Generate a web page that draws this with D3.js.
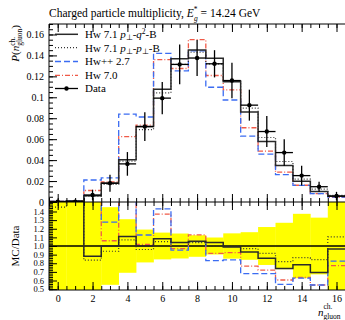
<!DOCTYPE html>
<html><head><meta charset="utf-8">
<script src="https://cdn.jsdelivr.net/npm/d3@7"></script>
<style>
body{margin:0;background:#fff}
svg{display:block}
text{font-family:"Liberation Serif","Times New Roman",serif;fill:#000}
</style>
</head><body>
<svg id="chart" width="345" height="320"></svg>
<script>
// ---------- data ----------
const bins = [0,1,2,3,4,5,6,7,8,9,10,11,12,13,14,15,16];
const dataVals = [0.0002,0.0004,0.0067,0.0180,0.0364,0.0720,0.0992,0.1314,0.1375,0.1320,0.1160,0.0925,0.0673,0.0472,0.0252,0.0146,0.0057];
const dataErrs = [0.0010,0.0010,0.0050,0.0081,0.0113,0.0137,0.0154,0.0190,0.0172,0.0130,0.0170,0.0148,0.0148,0.0127,0.0094,0.0048,0.0040];
const hwQ2   = [0.0004,0.0010,0.0059,0.0180,0.0404,0.0720,0.1076,0.1367,0.1451,0.1373,0.1148,0.0860,0.0577,0.0349,0.0197,0.0101,0.0055];
const hwPP   = [0.00029,0.0010,0.0056,0.0169,0.0390,0.0691,0.1042,0.1314,0.1430,0.1320,0.1160,0.0897,0.0616,0.0387,0.0218,0.0123,0.0063];
const hwpp27 = [0.0006,0.0012,0.0210,0.0230,0.0840,0.0812,0.1419,0.1252,0.1444,0.1096,0.0974,0.0629,0.0458,0.0262,0.0158,0.0080,0.0047];
const hw70   = [0.0006,0.0012,0.0110,0.0191,0.0625,0.0734,0.1359,0.1275,0.1551,0.1208,0.1070,0.0709,0.0485,0.0286,0.0160,0.0080,0.0044];
const seriesNames = ["Hw 7.1 p⊥-q²-B","Hw 7.1 p⊥-p⊥-B","Hw++ 2.7","Hw 7.0"];
const yTicksMain = [0,0.02,0.04,0.06,0.08,0.1,0.12,0.14,0.16];
const yTickLabelsMain = ["0","0.02","0.04","0.06","0.08","0.1","0.12","0.14","0.16"];
const yTicksRatio = [0.5,0.6,0.7,0.8,0.9,1.0,1.1,1.2,1.3,1.4];
const yTickLabelsRatio = ["0.5","0.6","0.7","0.8","0.9","1.0","1.1","1.2","1.3","1.4"];
const xTicks = [0,2,4,6,8,10,12,14,16];

// ---------- layout ----------
const svg = d3.select("#chart");
const L = 49, R = 370, T = 24, MB = 202, RB = 290;
const x = d3.scaleLinear().domain([0,16]).range([57.7,336.5]);
const y = d3.scaleLinear().domain([0,0.17]).range([MB,T]);
const yr = d3.scaleLinear().domain([0.49,1.51]).range([RB,MB]);

const styles = [
  {vals: hwQ2,   color:"#2a2a2a", dash:null,      w:1.5},
  {vals: hwPP,   color:"#333",    dash:"1,2",     w:1.2},
  {vals: hwpp27, color:"#3b6cf2", dash:"6,3",     w:1.3},
  {vals: hw70,   color:"#f05a48", dash:"5,2,1,2", w:1.3}
];

const defs = svg.append("defs");
defs.append("clipPath").attr("id","clipMain").append("rect").attr("x",L).attr("y",T).attr("width",R-L).attr("height",MB-T);
defs.append("clipPath").attr("id","clipRatio").append("rect").attr("x",L).attr("y",MB).attr("width",R-L).attr("height",RB-MB);

function stepPoints(vals, sc){
  const pts = bins.map((b,i)=>[x(b-0.5), sc(vals[i])]);
  pts.push([x(bins[bins.length-1]+0.5), sc(vals[vals.length-1])]);
  return pts;
}
const stepLine = d3.line().curve(d3.curveStepAfter);

// ---------- ratio band ----------
const gR = svg.append("g").attr("clip-path","url(#clipRatio)");
gR.selectAll("rect.band").data(bins).join("rect")
  .attr("x", b=>x(b-0.5)).attr("width", b=>x(b+0.5)-x(b-0.5)+0.3)
  .attr("y", (b,i)=>yr(Math.min(1+dataErrs[i]/dataVals[i], 5)))
  .attr("height", (b,i)=>yr(Math.max(1-dataErrs[i]/dataVals[i], -5)) - yr(Math.min(1+dataErrs[i]/dataVals[i], 5)))
  .attr("fill","#ffff00");
gR.append("line").attr("x1",L).attr("x2",R).attr("y1",yr(1)).attr("y2",yr(1)).attr("stroke","#000").attr("stroke-width",1.3);
styles.slice().reverse().forEach(s=>{
  const ratio = s.vals.map((v,i)=>v/dataVals[i]);
  gR.append("path").attr("d", stepLine(stepPoints(ratio, yr)))
    .attr("fill","none").attr("stroke",s.color).attr("stroke-width",s.w)
    .attr("stroke-dasharray",s.dash);
});

// ---------- main histograms ----------
const gM = svg.append("g").attr("clip-path","url(#clipMain)");
styles.slice().reverse().forEach(s=>{
  gM.append("path").attr("d", stepLine(stepPoints(s.vals, y)))
    .attr("fill","none").attr("stroke",s.color).attr("stroke-width",s.w)
    .attr("stroke-dasharray",s.dash);
});
// data points
const gD = gM.append("g");
bins.forEach((b,i)=>{
  gD.append("line").attr("x1",x(b-0.5)).attr("x2",x(b+0.5)).attr("y1",y(dataVals[i])).attr("y2",y(dataVals[i]))
    .attr("stroke","#000").attr("stroke-width",1.3);
  gD.append("line").attr("x1",x(b)).attr("x2",x(b)).attr("y1",y(dataVals[i]-dataErrs[i])).attr("y2",y(dataVals[i]+dataErrs[i]))
    .attr("stroke","#000").attr("stroke-width",1.3);
  gD.append("circle").attr("cx",x(b)).attr("cy",y(dataVals[i])).attr("r",2.2).attr("fill","#000");
});

// ---------- axes ----------
function ticksOnly(g){ g.select(".domain").remove(); g.selectAll("text").remove(); }
const minorMain = d3.range(0,0.1701,0.005);
const minorRatio = d3.range(0.5,1.501,0.02);
const minorX = d3.range(-0.5,16.51,0.5);

// main y
svg.append("g").attr("transform",`translate(${L},0)`)
  .call(d3.axisLeft(y).tickValues(minorMain).tickSize(-4)).call(ticksOnly);
const gy = svg.append("g").attr("transform",`translate(${L},0)`)
  .call(d3.axisLeft(y).tickValues(yTicksMain).tickFormat((d,i)=>yTickLabelsMain[i]).tickSize(-8).tickPadding(5));
gy.select(".domain").remove();
gy.selectAll("text").attr("font-size",10).attr("font-family","Liberation Serif");
gy.selectAll("line").attr("stroke","#000");

// ratio y
svg.append("g").attr("transform",`translate(${L},0)`)
  .call(d3.axisLeft(yr).tickValues(minorRatio).tickSize(-4)).call(ticksOnly);
const gyr = svg.append("g").attr("transform",`translate(${L},0)`)
  .call(d3.axisLeft(yr).tickValues(yTicksRatio).tickFormat((d,i)=>yTickLabelsRatio[i]).tickSize(-8).tickPadding(5));
gyr.select(".domain").remove();
gyr.selectAll("text").attr("font-size",8.5).attr("font-family","Liberation Serif");

// x ticks on all horizontal edges
[[T,"down"],[MB,"up"],[MB,"down"],[RB,"up"]].forEach(([yy,dir])=>{
  const ax = dir==="up" ? d3.axisBottom(x) : d3.axisTop(x);
  svg.append("g").attr("transform",`translate(0,${yy})`)
    .call(ax.tickValues(minorX).tickSize(-4)).call(ticksOnly);
  svg.append("g").attr("transform",`translate(0,${yy})`)
    .call(ax.tickValues(xTicks).tickSize(-8)).call(ticksOnly);
});
const gx = svg.append("g").attr("transform",`translate(0,${RB})`)
  .call(d3.axisBottom(x).tickValues(xTicks).tickSize(0).tickPadding(5));
gx.select(".domain").remove();
gx.selectAll("text").attr("font-size",10).attr("font-family","Liberation Serif");

// frame
svg.append("path").attr("d",`M${R},${T}H${L}V${RB}H${R}M${L},${MB}H${R}`)
  .attr("fill","none").attr("stroke","#000").attr("stroke-width",1);

// ---------- texts ----------
const title = svg.append("text").attr("x",49).attr("y",17).attr("font-size",11.5);
title.append("tspan").text("Charged particle multiplicity, ");
title.append("tspan").attr("font-style","italic").text("E");
title.append("tspan").attr("font-size",7.5).attr("dy",-5).text("*");
title.append("tspan").attr("font-size",7.5).attr("font-style","italic").attr("dx",-3.5).attr("dy",8.5).text("g");
title.append("tspan").attr("dy",-3.5).text(" = 14.24 GeV");

const yl = svg.append("text").attr("transform","translate(19,25) rotate(-90)").attr("text-anchor","end").attr("font-size",11);
yl.append("tspan").attr("font-style","italic").text("P");
yl.append("tspan").text("(");
yl.append("tspan").attr("font-style","italic").text("n");
yl.append("tspan").attr("font-size",7.5).attr("dy",-4).text("ch.");
yl.append("tspan").attr("font-size",7.5).attr("dx",-9).attr("dy",7).text("gluon");
yl.append("tspan").attr("dy",-3).text(")");

svg.append("text").attr("transform","translate(19,246) rotate(-90)").attr("text-anchor","middle").attr("font-size",11).text("MC/Data");

const xl = svg.append("text").attr("x",318).attr("y",316).attr("font-size",11);
xl.append("tspan").attr("font-style","italic").text("n");
xl.append("tspan").attr("font-size",7.5).attr("dy",-7).text("ch.");
xl.append("tspan").attr("font-size",7.5).attr("dx",-9).attr("dy",10).text("gluon");

// ---------- legend ----------
const legY = [34.3,47.7,61.5,75.3,88.5];
const lg = svg.append("g");
function legText(g, i){
  const t = g.append("text").attr("x",85).attr("y",legY[i]+3.8).attr("font-size",11);
  if(i===0){
    t.append("tspan").text("Hw 7.1 ");
    t.append("tspan").attr("font-style","italic").text("p");
    t.append("tspan").attr("font-size",7.5).attr("dy",2).text("⊥");
    t.append("tspan").attr("dy",-2).text("-");
    t.append("tspan").attr("font-style","italic").text("q");
    t.append("tspan").attr("font-size",7.5).attr("dy",-4).text("2");
    t.append("tspan").attr("dy",4).text("-B");
  } else if(i===1){
    t.append("tspan").text("Hw 7.1 ");
    t.append("tspan").attr("font-style","italic").text("p");
    t.append("tspan").attr("font-size",7.5).attr("dy",2).text("⊥");
    t.append("tspan").attr("dy",-2).text("-");
    t.append("tspan").attr("font-style","italic").text("p");
    t.append("tspan").attr("font-size",7.5).attr("dy",2).text("⊥");
    t.append("tspan").attr("dy",-2).text("-B");
  } else {
    t.text(i<4 ? seriesNames[i] : "Data");
  }
}
styles.forEach((s,i)=>{
  lg.append("line").attr("x1",55).attr("x2",78).attr("y1",legY[i]).attr("y2",legY[i])
    .attr("stroke",s.color).attr("stroke-width",s.w).attr("stroke-dasharray",s.dash);
  legText(lg,i);
});
lg.append("line").attr("x1",55).attr("x2",78).attr("y1",legY[4]).attr("y2",legY[4]).attr("stroke","#000").attr("stroke-width",1.3);
lg.append("circle").attr("cx",66.5).attr("cy",legY[4]).attr("r",2.2).attr("fill","#000");
legText(lg,4);
</script>
</body></html>
